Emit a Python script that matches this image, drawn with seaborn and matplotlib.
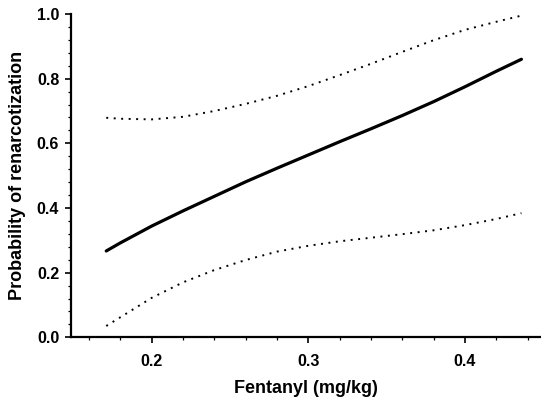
import numpy as np
import pandas as pd
import matplotlib
matplotlib.use("Agg")
import matplotlib.pyplot as plt
from matplotlib.ticker import MultipleLocator
import seaborn as sns

# data
dose = [0.171, 0.18, 0.20, 0.22, 0.24, 0.26, 0.28, 0.30, 0.32, 0.34, 0.36, 0.38, 0.40, 0.42, 0.436]
p_fit = [0.267, 0.292, 0.344, 0.391, 0.436, 0.481, 0.523, 0.564, 0.605, 0.645, 0.686, 0.729, 0.775, 0.823, 0.860]
ci_upper = [0.679, 0.676, 0.674, 0.682, 0.700, 0.722, 0.747, 0.777, 0.811, 0.846, 0.883, 0.919, 0.951, 0.976, 0.995]
ci_lower = [0.035, 0.062, 0.122, 0.170, 0.208, 0.239, 0.265, 0.283, 0.297, 0.308, 0.319, 0.331, 0.347, 0.366, 0.384]

x_ticks = [0.2, 0.3, 0.4]
y_ticks = [0.0, 0.2, 0.4, 0.6, 0.8, 1.0]

df = pd.DataFrame({"dose": dose, "fit": p_fit, "upper": ci_upper, "lower": ci_lower})

sns.set_style("ticks")
plt.rcParams["font.family"] = ["Liberation Sans", "DejaVu Sans"]
plt.rcParams["font.weight"] = "bold"

fig = plt.figure(figsize=(5.41, 4.01), dpi=100)
ax = fig.add_axes([71 / 541, 63.7 / 401, 470 / 541, 323.3 / 401])

DOTTED = (0, (1, 2.85))
sns.lineplot(data=df, x="dose", y="fit", ax=ax, color="black", linewidth=2.3)
sns.lineplot(data=df, x="dose", y="upper", ax=ax, color="black", linewidth=1.4,
             linestyle=DOTTED)
sns.lineplot(data=df, x="dose", y="lower", ax=ax, color="black", linewidth=1.4,
             linestyle=DOTTED)

ax.set_xlim(0.1485, 0.4485)
ax.set_ylim(0, 1.0)
ax.set_xticks(x_ticks)
ax.set_xticklabels([f"{t:.1f}" for t in x_ticks])
ax.set_yticks(y_ticks)
ax.set_yticklabels([f"{t:.1f}" for t in y_ticks])
ax.xaxis.set_minor_locator(MultipleLocator(0.02))
ax.yaxis.set_minor_locator(MultipleLocator(0.04))

sns.despine(ax=ax)
for side in ["left", "bottom"]:
    ax.spines[side].set_linewidth(1.6)
    ax.spines[side].set_color("black")

ax.tick_params(axis="both", which="major", length=4.5, width=1.2, color="black",
               labelsize=11.5, labelcolor="black")
ax.tick_params(axis="both", which="minor", length=2.5, width=0.9, color="black")
ax.tick_params(axis="x", which="major", pad=7.5)
ax.tick_params(axis="y", which="major", pad=4)
for lab in ax.get_xticklabels() + ax.get_yticklabels():
    lab.set_fontweight("bold")

ax.set_xlabel("Fentanyl (mg/kg)", fontsize=13, fontweight="bold", labelpad=8, color="black")
ax.set_ylabel("Probability of renarcotization", fontsize=13, fontweight="bold",
              labelpad=8, color="black")

fig.savefig("out.png", dpi=100)
